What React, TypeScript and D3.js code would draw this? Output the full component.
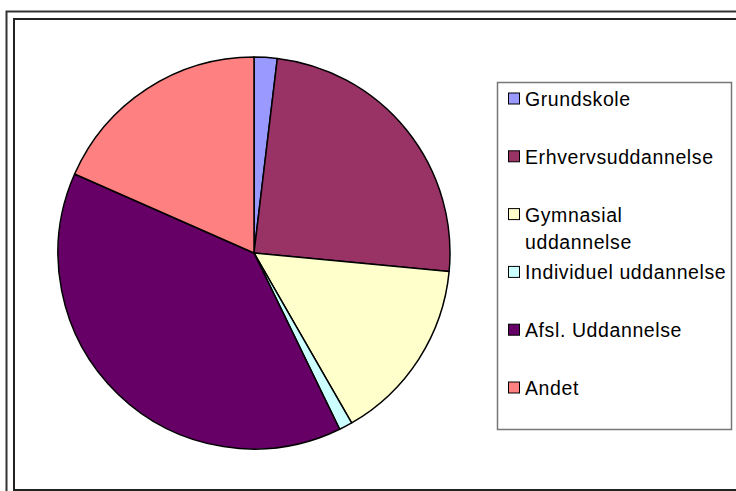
import React, { useEffect, useRef } from "react";
import * as d3 from "d3";

// education categories, values in percent
const categories = [
  "Grundskole",
  "Erhvervsuddannelse",
  "Gymnasial uddannelse",
  "Individuel uddannelse",
  "Afsl. Uddannelse",
  "Andet",
];
const values = [1.9, 24.6, 15.2, 1.1, 38.8, 18.4];
const legendLines = [
  ["Grundskole"],
  ["Erhvervsuddannelse"],
  ["Gymnasial", "uddannelse"],
  ["Individuel uddannelse"],
  ["Afsl. Uddannelse"],
  ["Andet"],
];
const colors = ["#9999FF", "#993366", "#FFFFCC", "#CCFFFF", "#660066", "#FF8080"];

const App = () => {
  const chartRef = useRef<SVGSVGElement>(null);

  useEffect(() => {
    document.body.style.margin = "0";
    const svg = d3.select(chartRef.current);
    svg.selectAll("*").remove();

    const width = 736;
    const height = 491;

    svg.append("rect").attr("width", width).attr("height", height).attr("fill", "#fff");

    // double frame around chart area
    svg.append("path")
      .attr("d", `M6.5,${height} V11.5 H${width}`)
      .attr("fill", "none")
      .attr("stroke", "#333")
      .attr("stroke-width", 2);
    svg.append("path")
      .attr("d", `M14,${height} V19 H${width}`)
      .attr("fill", "none")
      .attr("stroke", "#222")
      .attr("stroke-width", 2);
    svg.append("line")
      .attr("x1", 14).attr("x2", width)
      .attr("y1", 490).attr("y2", 490)
      .attr("stroke", "#222")
      .attr("stroke-width", 2);

    const cx = 254;
    const cy = 253;
    const radius = 196;

    const pie = d3.pie<number>().sort(null).value((d) => d);
    const arc = d3.arc<d3.PieArcDatum<number>>().innerRadius(0).outerRadius(radius);
    const color = d3.scaleOrdinal<string, string>().domain(categories).range(colors);

    const g = svg.append("g").attr("transform", `translate(${cx},${cy})`);
    g.selectAll("path")
      .data(pie(values))
      .join("path")
      .attr("d", arc)
      .attr("fill", (d, i) => color(categories[i]))
      .attr("stroke", "#000")
      .attr("stroke-width", 1.5)
      .attr("stroke-linejoin", "round");

    // legend
    const legend = svg.append("g");
    legend.append("rect")
      .attr("x", 497.5).attr("y", 82.5)
      .attr("width", 234).attr("height", 347)
      .attr("fill", "#fff")
      .attr("stroke", "#777")
      .attr("stroke-width", 1.5);

    const rowY = d3.scalePoint<string>().domain(categories).range([99, 388]);
    const rows = legend.selectAll("g.row")
      .data(categories)
      .join("g")
      .attr("class", "row")
      .attr("transform", (d) => `translate(0,${rowY(d)})`);
    rows.append("rect")
      .attr("x", 508.5).attr("y", -6)
      .attr("width", 11).attr("height", 11)
      .attr("fill", (d) => color(d))
      .attr("stroke", "#000")
      .attr("stroke-width", 1);
    rows.each(function (d, i) {
      const t = d3.select(this).append("text")
        .attr("x", 525)
        .attr("y", 7)
        .attr("font-family", "'Liberation Sans', Arial, sans-serif")
        .attr("font-size", 19.5)
        .attr("letter-spacing", 0.6)
        .attr("fill", "#000");
      legendLines[i].forEach((line, j) => {
        t.append("tspan").attr("x", 525).attr("dy", j === 0 ? 0 : 27).text(line);
      });
    });
  }, []);

  return <svg ref={chartRef} width={736} height={491} style={{ display: "block" }}></svg>;
};

export default App;
